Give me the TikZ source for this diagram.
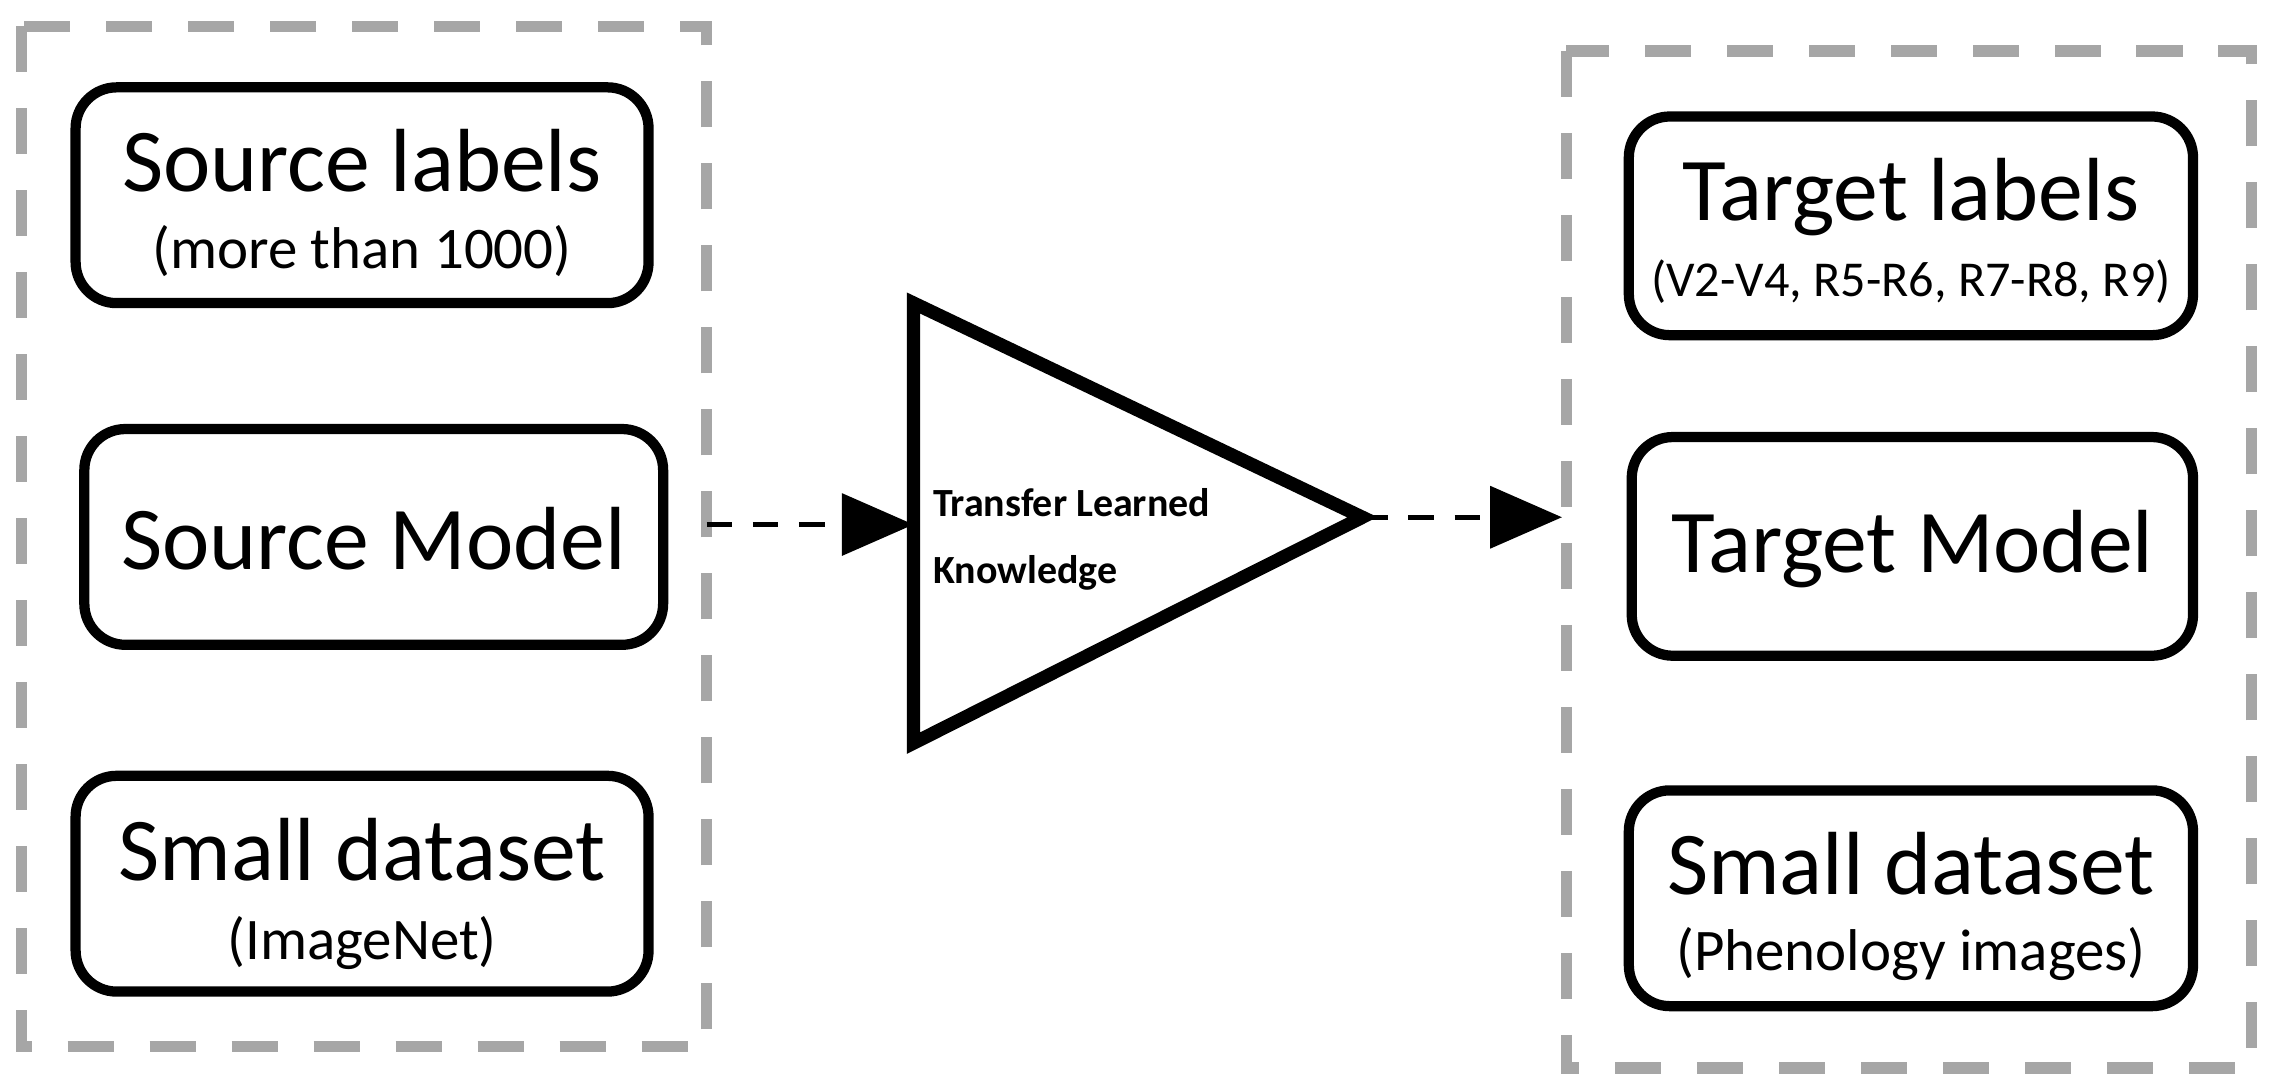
\documentclass[tikz,border=0pt]{standalone}
\usepackage{fontspec}
\setmainfont{Carlito}
\usetikzlibrary{arrows.meta}
\begin{document}
\begin{tikzpicture}[x=0.01cm,y=-0.01cm,
  grp/.style={draw=gray!70,line width=2.2pt,dash pattern=on 9pt off 7pt},
  box/.style={draw=black,line width=2pt,rounded corners=8pt,minimum width=3.93cm,minimum height=1.48cm,inner sep=0pt},
  big/.style={font=\fontsize{17.5}{19}\selectfont},
  sub/.style={font=\fontsize{11.5}{13}\selectfont},
  conn/.style={line width=1pt,dash pattern=on 5pt off 4pt,-{Triangle[length=14pt,width=12pt]}}]
\useasboundingbox (0,0) rectangle (1560,749);
\draw[grp] (15,18) rectangle (485,718);
\draw[grp] (1075,35) rectangle (1545,733);
\node[box] (sl) at (248.5,134) {};
\node[big] (slt) at (248.5,110) {Source labels};
\node[sub] (sls) at (248.5,172) {(more than 1000)};
\node[box,minimum width=3.97cm] (sm) at (256.5,368.5) {};
\node[big] (smt) at (256.5,370) {Source Model};
\node[box] (sd) at (248.5,606.5) {};
\node[big] (sdt) at (248.5,583) {Small dataset};
\node[sub] (sds) at (248.5,647) {(ImageNet)};
\node[box,minimum width=3.87cm,minimum height=1.5cm] (tl) at (1311.5,155) {};
\node[big] (tlt) at (1311.5,135) {Target labels};
\node[font=\fontsize{9.8}{11}\selectfont] (tls) at (1311.5,193) {(V2-V4, R5-R6, R7-R8, R9)};
\node[box,minimum width=3.85cm,minimum height=1.5cm] (tm) at (1312.5,375) {};
\node[big] (tmt) at (1312.5,377) {Target Model};
\node[box,minimum width=3.87cm] (td) at (1311.5,616.5) {};
\node[big] (tdt) at (1311.5,593) {Small dataset};
\node[sub] (tds) at (1311.5,655) {(Phenology images)};
\draw[line width=2.6pt,line join=miter] (627,208) -- (627,510) -- (935,355) -- cycle;
\coordinate (tin) at (627,360);
\coordinate (tout) at (935,355);
\coordinate (lout) at (485,360);
\coordinate (rin) at (1072,355);
\node[font=\bfseries\fontsize{7.8}{13}\selectfont,align=left,anchor=west] (tx) at (628,370) {Transfer Learned\\Knowledge};
\draw[conn] (lout) -- (tin);
\draw[conn] (tout) -- (rin);
\end{tikzpicture}
\end{document}
